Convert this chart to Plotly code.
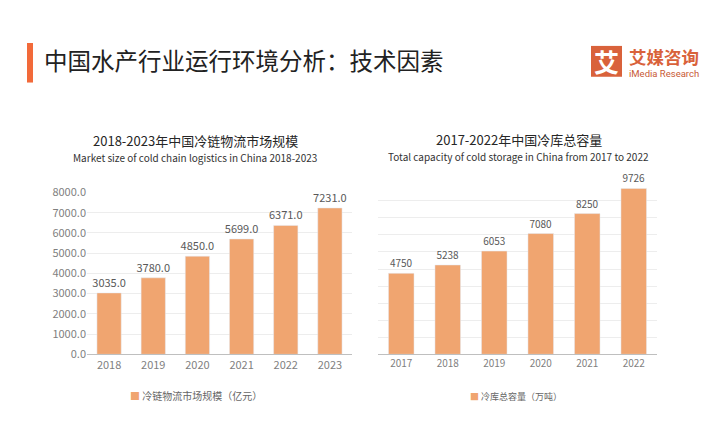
import plotly.graph_objects as go

W, H = 712, 442

# ---- data ----
years_left = ["2018", "2019", "2020", "2021", "2022", "2023"]
market_size = [3035.0, 3780.0, 4850.0, 5699.0, 6371.0, 7231.0]
years_right = ["2017", "2018", "2019", "2020", "2021", "2022"]
cold_capacity = [4750, 5238, 6053, 7080, 8250, 9726]
left_ticks = [0, 1000, 2000, 3000, 4000, 5000, 6000, 7000, 8000]
right_ticks = [0, 1000, 2000, 3000, 4000, 5000, 6000, 7000, 8000, 9000, 10000]

main_title = "中国水产行业运行环境分析：技术因素"
left_title = "2018-2023年中国冷链物流市场规模"
left_sub = "Market size of cold chain logistics in China 2018-2023"
right_title = "2017-2022年中国冷库总容量"
right_sub = "Total capacity of cold storage in China from 2017 to 2022"
left_legend = "冷链物流市场规模（亿元）"
right_legend = "冷库总容量（万吨）"

FONT = "Noto Sans CJK SC, Noto Sans, sans-serif"
BAR = "#F0A570"
ORANGE = "#D9623B"

# page body has a default 8px margin; compensate so page pixels match
OX, OY = 8, 8

def px(x):
    return (x - OX) / W

def py(y):
    return 1 - (y - OY) / H

fig = go.Figure()
fig.add_trace(go.Bar(
    x=years_left, y=market_size, marker_color=BAR, xaxis="x", yaxis="y",
    texttemplate="%{y:.1f}", textposition="outside", cliponaxis=False,
    constraintext="none",
    textfont=dict(size=11, color="#595959", family=FONT), showlegend=False))
fig.add_trace(go.Bar(
    x=years_right, y=cold_capacity, marker_color=BAR, xaxis="x2", yaxis="y2",
    texttemplate="%{y}", textposition="outside", cliponaxis=False,
    constraintext="none",
    textfont=dict(size=10, color="#595959", family=FONT), showlegend=False))

grid = "#EDEDED"
fig.update_layout(
    width=W, height=H, margin=dict(l=0, r=0, t=0, b=0),
    paper_bgcolor="white", plot_bgcolor="white",
    font=dict(family=FONT, color="#333"),
    bargap=0.45,
    xaxis=dict(domain=[px(87), px(352)], anchor="y", showline=True,
               linecolor="#BFBFBF", linewidth=1, showgrid=False, ticks="",
               tickfont=dict(size=11, color="#7F7F7F")),
    yaxis=dict(domain=[py(358), py(190)], anchor="x", range=[0, 8000],
               tickvals=left_ticks, tickformat=".1f", showgrid=True,
               gridcolor=grid, zeroline=False, showline=False, ticks="",
               tickfont=dict(size=11, color="#7F7F7F")),
    xaxis2=dict(domain=[px(378), px(657)], anchor="y2", showline=True,
                linecolor="#BFBFBF", linewidth=1, showgrid=False, ticks="",
                tickfont=dict(size=10, color="#7F7F7F")),
    yaxis2=dict(domain=[py(358), py(181)], anchor="x2", range=[0, 10000],
                tickvals=right_ticks, showticklabels=False, showgrid=True,
                gridcolor=grid, zeroline=False, showline=False, ticks=""),
    showlegend=False,
)

shapes = [
    dict(type="rect", xref="paper", yref="paper", x0=px(27), x1=px(33),
         y0=py(76), y1=py(35), fillcolor="#F26A3A", line_width=0),
    dict(type="rect", xref="paper", yref="paper", x0=px(591), x1=px(622),
         y0=py(70), y1=py(38), fillcolor=ORANGE, line_width=0),
]
fig.update_layout(shapes=shapes)

def ann(text, x, y, size, color="#333", xanchor="center", bold=False, family=FONT):
    if bold:
        text = "<b>" + text + "</b>"
    fig.add_annotation(text=text, x=px(x), y=py(y), xref="paper", yref="paper",
                       xanchor=xanchor, yanchor="middle", showarrow=False,
                       font=dict(size=size, color=color, family=family))

ann(main_title, 42, 53, 23.5, "#222", xanchor="left")
ann("艾", 606.5, 54, 25, "white", bold=True)
ann("艾媒咨询", 627, 48.5, 17.5, ORANGE, xanchor="left", bold=True)
ann("iMedia Research", 627, 67, 9.5, "#C85A36", xanchor="left",
    family="Roboto, sans-serif")

ann(left_title, 195, 136, 13, "#262626")
ann(left_sub, 195, 154, 10, "#333")
ann(right_title, 519, 135, 13, "#262626")
ann(right_sub, 519, 153, 10, "#333")

ann('<span style="color:%s">■</span> ' % BAR + left_legend, 196, 401, 10, "#666")
ann('<span style="color:%s">■</span> ' % BAR + right_legend, 516, 402, 9, "#666")

fig.write_html("out.html")
